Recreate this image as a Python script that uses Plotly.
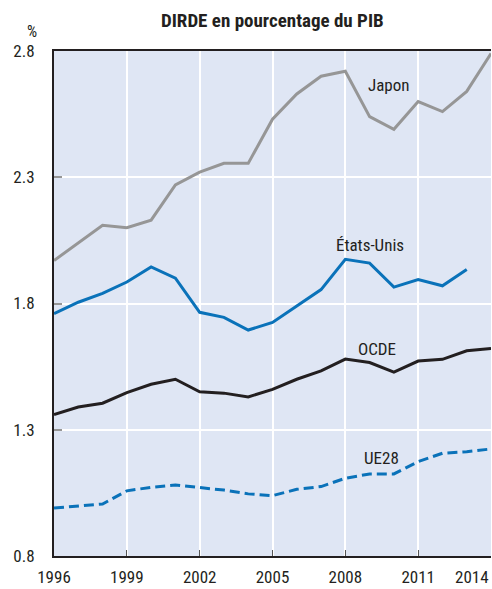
import plotly.graph_objects as go

years = list(range(1996, 2015))
japon = [1.97, 2.04, 2.11, 2.10, 2.13, 2.27, 2.32, 2.355, 2.355, 2.53, 2.63, 2.70, 2.72,
         2.54, 2.49, 2.60, 2.56, 2.64, 2.79]
etats_unis = [1.76, 1.805, 1.84, 1.885, 1.945, 1.90, 1.765, 1.745, 1.695, 1.725, 1.79, 1.855,
              1.975, 1.96, 1.865, 1.895, 1.87, 1.935, None]
ocde = [1.36, 1.39, 1.405, 1.447, 1.48, 1.50, 1.45, 1.445, 1.43, 1.46, 1.50, 1.533, 1.58,
        1.566, 1.528, 1.572, 1.579, 1.613, 1.622]
ue28 = [0.99, 0.998, 1.006, 1.058, 1.072, 1.081, 1.072, 1.061, 1.046, 1.039, 1.064, 1.075,
        1.108, 1.125, 1.125, 1.174, 1.207, 1.213, 1.224]

xtick_vals = [1996, 1999, 2002, 2005, 2008, 2011, 2014]
xtick_text = ["1996", "1999", "2002", "2005", "2008", "2011", "2014"]
ytick_vals = [0.8, 1.3, 1.8, 2.3, 2.8]
ytick_text = ["0.8", "1.3", "1.8", "2.3", "2.8"]

FONT = "Liberation Sans Narrow, Arial Narrow, Roboto Condensed, Roboto, sans-serif"
GRAY = "#969696"
BLUE = "#0a72b9"
BLACK = "#231f20"

fig = go.Figure()
fig.add_trace(go.Scatter(x=years, y=japon, mode="lines", line=dict(color=GRAY, width=3)))
fig.add_trace(go.Scatter(x=years, y=etats_unis, mode="lines", line=dict(color=BLUE, width=3)))
fig.add_trace(go.Scatter(x=years, y=ocde, mode="lines", line=dict(color=BLACK, width=3)))
fig.add_trace(go.Scatter(x=years, y=ue28, mode="lines",
                         line=dict(color=BLUE, width=3, dash="10px,5px")))

labels = [("Japon", 2009.8, 2.665), ("États-Unis", 2009.0, 2.03),
          ("OCDE", 2009.3, 1.62), ("UE28", 2009.5, 1.19)]
for txt, x, y in labels:
    fig.add_annotation(x=x, y=y, text=txt, showarrow=False,
                       font=dict(family=FONT, size=17, color=BLACK))

# last x tick label, right aligned at the plot edge
fig.add_annotation(x=xtick_vals[-1], y=0, xref="x", yref="paper", yshift=-21,
                   text=xtick_text[-1], showarrow=False, xanchor="right", yanchor="middle",
                   font=dict(family=FONT, size=17, color=BLACK))

fig.add_annotation(x=0.5, y=1, xref="paper", yref="paper", yshift=31, yanchor="middle",
                   text="<b>DIRDE en pourcentage du PIB</b>", showarrow=False,
                   font=dict(family=FONT, size=19, color=BLACK))
fig.add_annotation(x=-0.05, y=1, xref="x domain", yref="paper", xanchor="center", yshift=20,
                   yanchor="middle", text="%", showarrow=False,
                   font=dict(family=FONT, size=16, color=BLACK))

fig.update_layout(
    width=492, height=589,
    margin=dict(l=54, r=1, t=51, b=33),
    paper_bgcolor="white", plot_bgcolor="#dfe6f4",
    showlegend=False,
    font=dict(family=FONT, size=17, color=BLACK),
)
fig.update_xaxes(range=[1996, 2014], tickvals=xtick_vals[:-1], ticktext=xtick_text[:-1],
                 automargin=False,
                 showgrid=True, gridcolor="white", gridwidth=1.5,
                 showline=True, linecolor=BLACK, linewidth=2, mirror=True,
                 ticks="inside", ticklen=6, tickcolor="#555555", tickwidth=1,
                 ticklabelstandoff=5,
                 zeroline=False, tickfont=dict(family=FONT, size=17, color=BLACK))
fig.update_yaxes(range=[0.8, 2.8], tickvals=ytick_vals, ticktext=ytick_text,
                 automargin=False,
                 showgrid=True, gridcolor="white", gridwidth=1.5,
                 showline=True, linecolor=BLACK, linewidth=2,
                 ticks="inside", ticklen=8, tickcolor=GRAY, tickwidth=1.5,
                 ticklabelstandoff=14,
                 zeroline=False, tickfont=dict(family=FONT, size=17, color=BLACK))

fig.write_html("out.html", config={"displayModeBar": False},
               post_script="document.body.style.margin='0';document.body.style.overflow='hidden';")
